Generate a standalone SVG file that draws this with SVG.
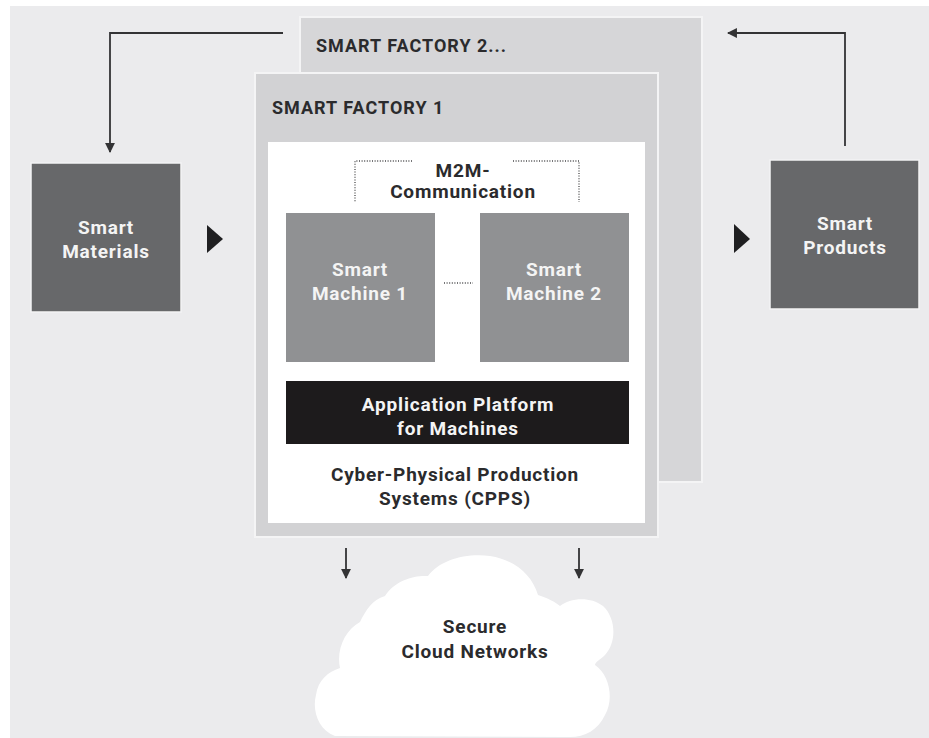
<svg xmlns="http://www.w3.org/2000/svg" width="929" height="738" viewBox="0 0 929 738">
  <defs>
    <style>
      .lbl { font-family: Roboto, "Liberation Sans", sans-serif; font-weight: 700; font-size: 19px; letter-spacing: 0.8px; text-anchor: middle; }
      .dark { fill: #2b2b2d; }
      .light { fill: #f4f4f4; }
      .title { font-family: Roboto, "Liberation Sans", sans-serif; font-weight: 700; font-size: 18px; letter-spacing: 1px; fill: #2b2b2d; }
      .factory { stroke: #f4f4f5; stroke-width: 2; }
      .flow { fill: none; stroke: #333335; stroke-width: 1.8; }
      .dots { fill: none; stroke: #4a4a4c; stroke-width: 1.3; stroke-dasharray: 1 1.6; }
      .tri { fill: #1f1f21; }
    </style>
    <marker id="head" viewBox="0 0 10 10" refX="9" refY="5" markerWidth="5.5" markerHeight="5.5" orient="auto" markerUnits="strokeWidth">
      <path d="M0,0 L10,5 L0,10 Z" fill="#333335"/>
    </marker>
  </defs>

  <!-- canvas -->
  <rect x="0" y="0" width="929" height="738" fill="#ffffff"/>
  <rect x="10" y="6" width="919" height="732" fill="#ebebed"/>

  <!-- back factory -->
  <g id="smart-factory-2">
    <rect class="factory" x="300" y="17" width="402" height="465" fill="#d6d6d8"/>
    <text class="title" x="316" y="52">SMART FACTORY 2...</text>
  </g>

  <!-- front factory -->
  <g id="smart-factory-1">
    <rect class="factory" x="255" y="73" width="403" height="464" fill="#d2d2d4"/>
    <text class="title" x="272" y="114">SMART FACTORY 1</text>
    <rect x="268" y="142" width="377" height="381" fill="#ffffff"/>
  </g>

  <g id="m2m-communication">
    <path class="dots" d="M412,161 H355 V202"/>
    <path class="dots" d="M513,161 H579 V202"/>
    <path class="dots" d="M444,283 H473"/>
    <text class="lbl dark" x="463" y="177">M2M-</text>
    <text class="lbl dark" x="463" y="198">Communication</text>
  </g>

  <g id="smart-machine-1">
    <rect x="286" y="213" width="149" height="149" fill="#909193"/>
    <text class="lbl light" x="360" y="276">Smart</text>
    <text class="lbl light" x="360" y="300">Machine 1</text>
  </g>

  <g id="smart-machine-2">
    <rect x="480" y="213" width="149" height="149" fill="#909193"/>
    <text class="lbl light" x="554" y="276">Smart</text>
    <text class="lbl light" x="554" y="300">Machine 2</text>
  </g>

  <g id="application-platform">
    <rect x="286" y="381" width="343" height="63" fill="#1d1b1c"/>
    <text class="lbl light" x="458" y="411">Application Platform</text>
    <text class="lbl light" x="458" y="435">for Machines</text>
  </g>

  <g id="cpps">
    <text class="lbl dark" x="455" y="481">Cyber-Physical Production</text>
    <text class="lbl dark" x="455" y="505">Systems (CPPS)</text>
  </g>

  <g id="smart-materials">
    <rect x="31" y="163" width="150" height="149" fill="#67686a" stroke="#f4f4f5" stroke-width="1.5"/>
    <text class="lbl light" x="106" y="234">Smart</text>
    <text class="lbl light" x="106" y="258">Materials</text>
  </g>

  <g id="smart-products">
    <rect x="770" y="160" width="149" height="149" fill="#67686a" stroke="#f4f4f5" stroke-width="1.5"/>
    <text class="lbl light" x="845" y="230">Smart</text>
    <text class="lbl light" x="845" y="254">Products</text>
  </g>

  <g id="secure-cloud">
    <path fill="#ffffff" d="M335,736
      C318,730 312,710 316,695
      C318,680 328,672 340,668
      C336,650 345,630 360,622
      C366,610 372,600 385,596
      C395,580 415,575 428,576
      C440,560 465,553 490,556
      C515,560 532,575 538,595
      C548,598 555,602 560,606
      C570,598 590,596 603,606
      C616,618 617,642 605,655
      C600,660 595,662 595,665
      C610,675 614,700 605,715
      C598,730 585,737 570,737 Z"/>
    <text class="lbl dark" x="475" y="633">Secure</text>
    <text class="lbl dark" x="475" y="658">Cloud Networks</text>
  </g>

  <g id="connectors">
    <path class="flow" d="M283,33 H110 V152" marker-end="url(#head)"/>
    <path class="flow" d="M845,146 V33 H728" marker-end="url(#head)"/>
    <path class="flow" d="M346,548 V578" marker-end="url(#head)"/>
    <path class="flow" d="M579,548 V578" marker-end="url(#head)"/>
    <path class="tri" d="M207,225 L223,239 L207,253 Z"/>
    <path class="tri" d="M734,224 L750,239 L734,253 Z"/>
  </g>
</svg>
